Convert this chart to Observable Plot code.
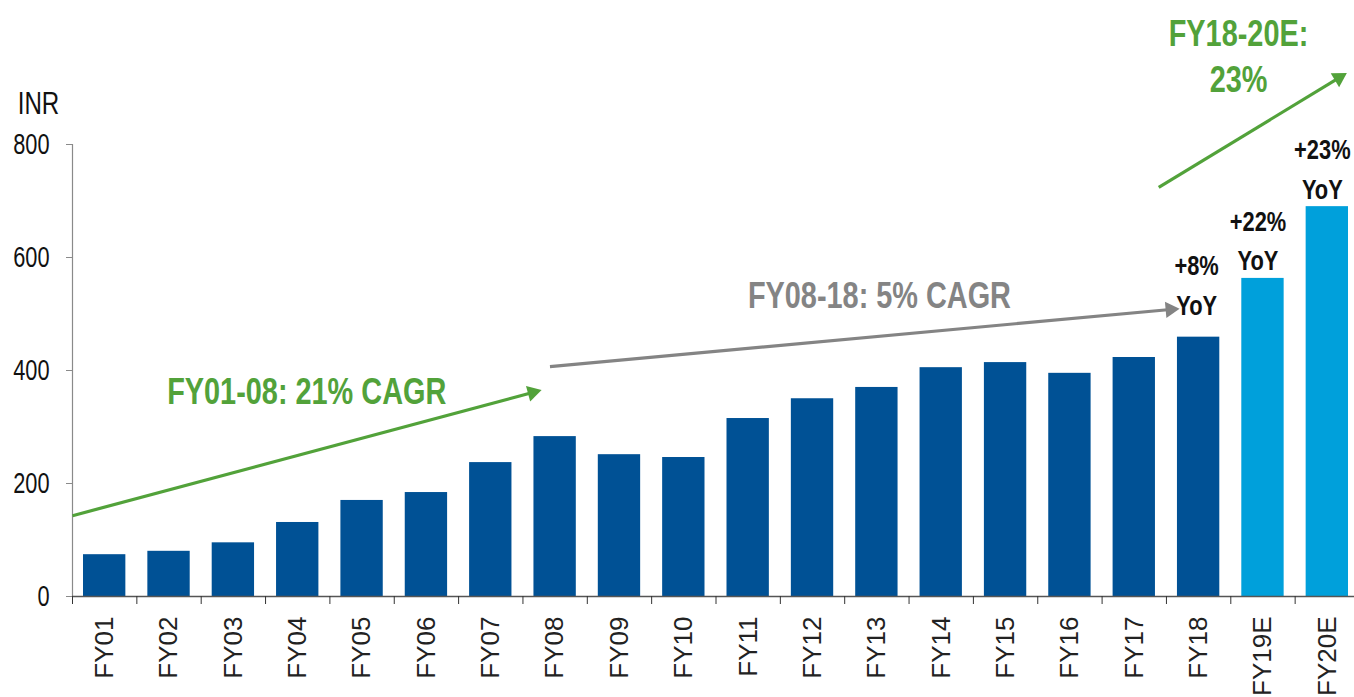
<!DOCTYPE html>
<html>
<head>
<meta charset="utf-8">
<script src="https://cdn.jsdelivr.net/npm/d3@7"></script>
<script src="https://cdn.jsdelivr.net/npm/@observablehq/plot@0.6"></script>
<style>
  html, body { margin: 0; padding: 0; background: #fff; }
  #chart svg { display: block; }
</style>
</head>
<body>
<div id="chart"></div>
<script>
// ---- data ----
const categories = ["FY01","FY02","FY03","FY04","FY05","FY06","FY07","FY08","FY09","FY10",
                    "FY11","FY12","FY13","FY14","FY15","FY16","FY17","FY18","FY19E","FY20E"];
const values = [74, 80, 95, 131, 170, 184, 237, 283, 251, 246,
                315, 350, 370, 405, 414, 395, 423, 459, 563, 690];
const isEstimate = categories.map(c => c.endsWith("E"));
const yTicks = [0, 200, 400, 600, 800];

const yoyCategories = ["FY18", "FY19E", "FY20E"];
const yoyTexts = ["+8%\nYoY", "+22%\nYoY", "+23%\nYoY"];

const trendLabels = ["FY01-08: 21% CAGR", "FY08-18: 5% CAGR", "FY18-20E:", "23%"];

// annotation anchors (x in category-index units, y in INR)
const arrowStarts = [[0.0, 143], [7.42, 407], [16.88, 724]];
const arrowEnds   = [[7.15, 361], [17.06, 508], [19.68, 918]];
const labelAnchors = [[3.64, 361], [12.54, 531], [18.12, 996], [18.12, 913]];

// ---- layout / styles ----
const W = 1354, H = 697, ML = 72, MR = -5, MT = 144, MB = 101;
const DARK = "#005195";
const LIGHT = "#00A0DB";
const GREEN = "#52A23A";
const GRAY = "#848484";
const FONT = '"Liberation Sans", Arial, sans-serif';

const bars = categories.map((c, i) => ({i, cat: c, value: values[i], est: isEstimate[i]}));
const yoy = yoyCategories.map((c, k) => {
  const i = categories.indexOf(c);
  return {i, value: values[i], text: yoyTexts[k]};
});
// screen-space direction of each arrow, for the filled heads
const xs = d3.scaleLinear([0, categories.length], [ML, W - MR]);
const ys = d3.scaleLinear([0, 800], [H - MB, MT]);
const arrows = arrowStarts.map((s, k) => {
  const e = arrowEnds[k];
  const sx = xs(e[0]) - xs(s[0]), sy = ys(e[1]) - ys(s[1]);
  return {x1: s[0], y1: s[1], x2: e[0], y2: e[1],
          angle: Math.atan2(sx, -sy) * 180 / Math.PI,
          color: k === 1 ? GRAY : GREEN};
});
const labels = trendLabels.map((t, k) => ({
  text: t, x: labelAnchors[k][0], y: labelAnchors[k][1], color: k === 1 ? GRAY : GREEN
}));

const chart = Plot.plot({
  width: W, height: H,
  marginLeft: ML, marginRight: MR, marginTop: MT, marginBottom: MB,
  style: {fontFamily: FONT, background: "#fff", overflow: "visible"},
  x: {type: "linear", domain: [0, categories.length]},
  y: {domain: [0, 800]},
  marks: [
    Plot.rect(bars, {
      x1: "i", x2: d => d.i + 1, y1: d => 0, y2: "value",
      fill: d => d.est ? LIGHT : DARK, insetLeft: 11, insetRight: 11
    }),
    Plot.ruleX([0], {y1: 0, y2: 800, stroke: "#8a8a8a", strokeWidth: 1.2}),
    Plot.axisY({ticks: yTicks, tickSize: 6, tickPadding: 17, fontSize: 29,
                label: null, stroke: "#8a8a8a", fill: "#111"}),
    Plot.ruleY([0], {stroke: "#555", strokeWidth: 1.5}),
    Plot.axisX({ticks: d3.range(0, categories.length + 1), tickSize: 8, tickFormat: () => "",
                label: null, stroke: "#333"}),
    Plot.axisX({ticks: categories.map((c, i) => i + 0.5), tickSize: 0, tickPadding: 20,
                tickRotate: -90, tickFormat: v => categories[Math.floor(v)],
                fontSize: 26, fill: "#222", label: null}),
    Plot.text(["INR"], {frameAnchor: "top-left", dx: -34, dy: -40, fontSize: 31,
                        fill: "#111", textAnchor: "middle", lineAnchor: "middle",
                        ariaDescription: "narrow"}),
    Plot.link(arrows, {x1: "x1", y1: "y1", x2: "x2", y2: "y2", stroke: "color",
                       strokeWidth: 3.2}),
    Plot.dot(arrows, {x: "x2", y: "y2", symbol: "triangle", rotate: "angle", r: 6,
                      fill: "color", stroke: null}),
    Plot.text(labels, {x: "x", y: "y", text: "text", fill: "color", fontSize: 37,
                       fontWeight: "bold", textAnchor: "middle", lineAnchor: "middle",
                       ariaDescription: "narrow"}),
    Plot.text(yoy.filter(d => d.i !== 17), {x: d => d.i + 0.5, y: "value", text: "text",
                       fontSize: 28, fontWeight: "bold", fill: "#111", lineAnchor: "bottom",
                       lineHeight: 1.42, dx: -5, dy: -8, ariaDescription: "narrow"}),
    Plot.text(yoy.filter(d => d.i === 17), {x: d => d.i + 0.5, y: "value", text: "text",
                       fontSize: 28, fontWeight: "bold", fill: "#111", lineAnchor: "bottom",
                       lineHeight: 1.42, dx: -2, dy: -22, ariaDescription: "narrow"})
  ]
});
document.getElementById("chart").appendChild(chart);

// mimic the narrow typeface of the original by condensing glyphs horizontally
function condense(selector, factor) {
  chart.querySelectorAll(selector).forEach(t => {
    const spans = t.querySelectorAll("tspan");
    const els = spans.length ? Array.from(spans) : [t];
    els.forEach(e => {
      const L = e.getComputedTextLength();
      if (L > 0) {
        e.setAttribute("textLength", (L * factor).toFixed(1));
        e.setAttribute("lengthAdjust", "spacingAndGlyphs");
      }
    });
  });
}
condense('g[aria-description="narrow"] text', 0.78);
condense('g[aria-label="y-axis tick label"] text', 0.75);
</script>
</body>
</html>
